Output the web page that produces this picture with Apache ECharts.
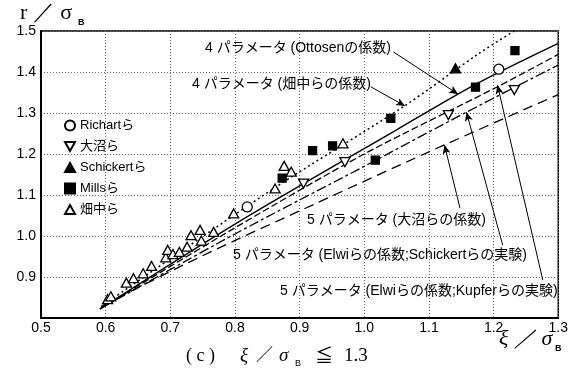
<!DOCTYPE html>
<html><head><meta charset="utf-8">
<script src="https://cdn.jsdelivr.net/npm/echarts@6/dist/echarts.min.js"></script>
<style>html,body{margin:0;padding:0;background:#fff}#c{width:571px;height:372px}</style>
</head><body><div id="c"></div>
<script>
// ---- data ----
const xTicks = [0.5,0.6,0.7,0.8,0.9,1.0,1.1,1.2,1.3];
const yTicks = [0.9,1.0,1.1,1.2,1.3,1.4,1.5];
const richart = [[0.819,1.071],[1.208,1.407]];
const onuma = [[0.906,1.128],[0.970,1.180],[1.130,1.295],[1.232,1.356]];
const schickert = [[1.141,1.409]];
const mills = [[0.873,1.141],[0.920,1.208],[0.951,1.220],[1.017,1.185],[1.041,1.287],[1.172,1.363],[1.233,1.452]];
const hatanaka = [[0.603,0.846],[0.608,0.853],[0.632,0.886],[0.643,0.897],[0.658,0.909],[0.671,0.927],
  [0.693,0.948],[0.696,0.966],[0.704,0.956],[0.714,0.961],[0.726,0.974],[0.732,1.002],[0.746,1.015],
  [0.748,0.989],[0.767,1.010],[0.798,1.055],[0.862,1.116],[0.876,1.171],[0.887,1.157],[0.967,1.226]];
// model curves
const p4Hatanaka = [[0.593,0.828],[0.86,1.116],[1.06,1.315],[1.178,1.446],[1.232,1.5]];
const p4Ottosen = [[0.591,0.822],[0.802,1.031],[1.05,1.259],[1.172,1.37],[1.3,1.47]];
const p5Kupfer = [[0.591,0.822],[0.8,1.02],[1.0,1.2],[1.206,1.364],[1.3,1.443]];
const p5Schickert = [[0.591,0.822],[0.8,1.005],[1.0,1.17],[1.158,1.302],[1.3,1.417]];
const p5Onuma = [[0.595,0.83],[0.746,0.949],[0.926,1.080],[1.101,1.206],[1.3,1.345]];
// annotation arrows [from, to]
const arrows = [
  [[1.045,1.449],[1.145,1.346]],
  [[1.010,1.364],[1.063,1.317]],
  [[1.148,1.068],[1.124,1.222]],
  [[1.214,0.978],[1.158,1.302]],
  [[1.276,0.893],[1.206,1.368]]
];
const legendNames = ['Richartら','大沼ら','Schickertら','Millsら','畑中ら'];
const annTexts = ['4 パラメータ (Ottosenの係数)','4 パラメータ (畑中らの係数)','5 パラメータ (大沼らの係数)',
  '5 パラメータ (Elwiらの係数;Schickertらの実験)','5 パラメータ (Elwiらの係数;Kupferらの実験)'];

const FF = "'Liberation Sans','Noto Sans CJK JP',sans-serif";
const SERIF = "'Liberation Serif','DejaVu Serif',serif";
const chart = echarts.init(document.getElementById('c'), null, {renderer:'canvas'});
const triUp = 'path://M5,0 L10,9 L0,9 Z';
const triDown = 'path://M0,0 L10,0 L5,9 Z';
const sq = 'path://M0,0 L10,0 L10,10 L0,10 Z';
function scat(name, data, symbol, fill, size){
  return {name, type:'scatter', data, symbol, symbolSize:size, z:5,
    itemStyle:{color:fill, borderColor:'#000', borderWidth:1.3, opacity:1}};
}
function curve(data, type, w){
  return {type:'line', data, showSymbol:false, symbol:'none', smooth:0.3, silent:true,
    lineStyle:{color:'#000', width:w||1.3, type}, z:3};
}
const lineSeries = [
  curve(p4Hatanaka,[2,3],1.5),
  curve(p4Ottosen,'solid',1.4),
  curve(p5Kupfer,[7,3],1.3),
  curve(p5Schickert,[10,3,3,3],1.3),
  curve(p5Onuma,[10,6],1.3)
];
lineSeries[0].markLine = {silent:true, symbol:['none','arrow'], symbolSize:[6,9], animation:false,
  label:{show:false}, lineStyle:{color:'#000', width:1, type:'solid'},
  data: arrows.map(a=>[{coord:a[0]},{coord:a[1]}])};

const textStyleAnn = {fontFamily:FF, fontSize:14, fill:'#000'};
const annPos = [[205,50],[192,86],[307,222],[233,257],[280,293]];

chart.setOption({
  animation:false,
  backgroundColor:'#fff',
  grid:{left:41, right:12, top:31, bottom:54, show:true, borderColor:'#000', borderWidth:1.5, backgroundColor:'transparent'},
  xAxis:{type:'value', min:0.5, max:1.3, interval:0.1,
    axisLine:{show:true, lineStyle:{color:'#000', width:2}},
    axisTick:{show:false},
    axisLabel:{color:'#000', fontFamily:FF, fontSize:14, margin:3, formatter:v=>v.toFixed(1)},
    splitLine:{show:true, lineStyle:{color:'#666', type:[1,2], width:1}}},
  yAxis:{type:'value', min:0.8, max:1.5, interval:0.1,
    axisLine:{show:true, lineStyle:{color:'#000', width:2}},
    axisTick:{show:false},
    axisLabel:{color:'#000', fontFamily:FF, fontSize:14, margin:5,
      formatter:v=> yTicks.some(t=>Math.abs(t-v)<1e-6) ? v.toFixed(1) : ''},
    splitLine:{show:true, lineStyle:{color:'#666', type:[1,2], width:1}}},
  legend:{orient:'vertical', left:59, top:114, itemGap:8, itemWidth:10, itemHeight:14,
    textStyle:{fontFamily:FF, fontSize:13, color:'#000'}, data:legendNames},
  series:[
    scat(legendNames[0], richart, 'circle', '#fff', 10),
    scat(legendNames[1], onuma, triDown, '#fff', [10,9]),
    scat(legendNames[2], schickert, triUp, '#000', [10,9]),
    scat(legendNames[3], mills, sq, '#000', 8),
    scat(legendNames[4], hatanaka, triUp, '#fff', [10,9]),
    ...lineSeries
  ],
  graphic:[
    ...annTexts.map((t,i)=>({type:'text', left:annPos[i][0], top:annPos[i][1]-9, z:10,
      style:Object.assign({text:t}, textStyleAnn)})),
    {type:'text', left:20, top:2, z:10, style:{text:'r ／ σ', fontFamily:SERIF, fontSize:22, fill:'#000'}},
    {type:'text', left:78, top:18, z:10, style:{text:'B', fontFamily:FF, fontSize:9, fontWeight:'bold', fill:'#000'}},
    {type:'text', left:499, top:328, z:10, style:{text:'ξ ／ σ', fontFamily:SERIF, fontStyle:'italic', fontSize:22, fill:'#000'}},
    {type:'text', left:555, top:344, z:10, style:{text:'B', fontFamily:FF, fontSize:9, fontWeight:'bold', fill:'#000'}},
    {type:'text', left:186, top:347, z:10, style:{text:'( c )', fontFamily:SERIF, fontSize:18, fill:'#000'}},
    {type:'text', left:240, top:346, z:10, style:{text:'ξ', fontFamily:SERIF, fontStyle:'italic', fontSize:19, fill:'#000'}},
    {type:'text', left:256, top:346, z:10, style:{text:'／', fontFamily:"'Noto Sans CJK JP',sans-serif", fontSize:17, fill:'#000'}},
    {type:'text', left:279, top:346, z:10, style:{text:'σ', fontFamily:SERIF, fontStyle:'italic', fontSize:19, fill:'#000'}},
    {type:'text', left:295, top:359, z:10, style:{text:'B', fontFamily:FF, fontSize:9, fill:'#000'}},
    {type:'text', left:315, top:346, z:10, style:{text:'≦', fontFamily:"'Noto Sans CJK JP',sans-serif", fontSize:18, fill:'#000'}},
    {type:'text', left:344, top:347, z:10, style:{text:'1.3', fontFamily:SERIF, fontSize:19, fill:'#000'}}
  ]
});
</script></body></html>
